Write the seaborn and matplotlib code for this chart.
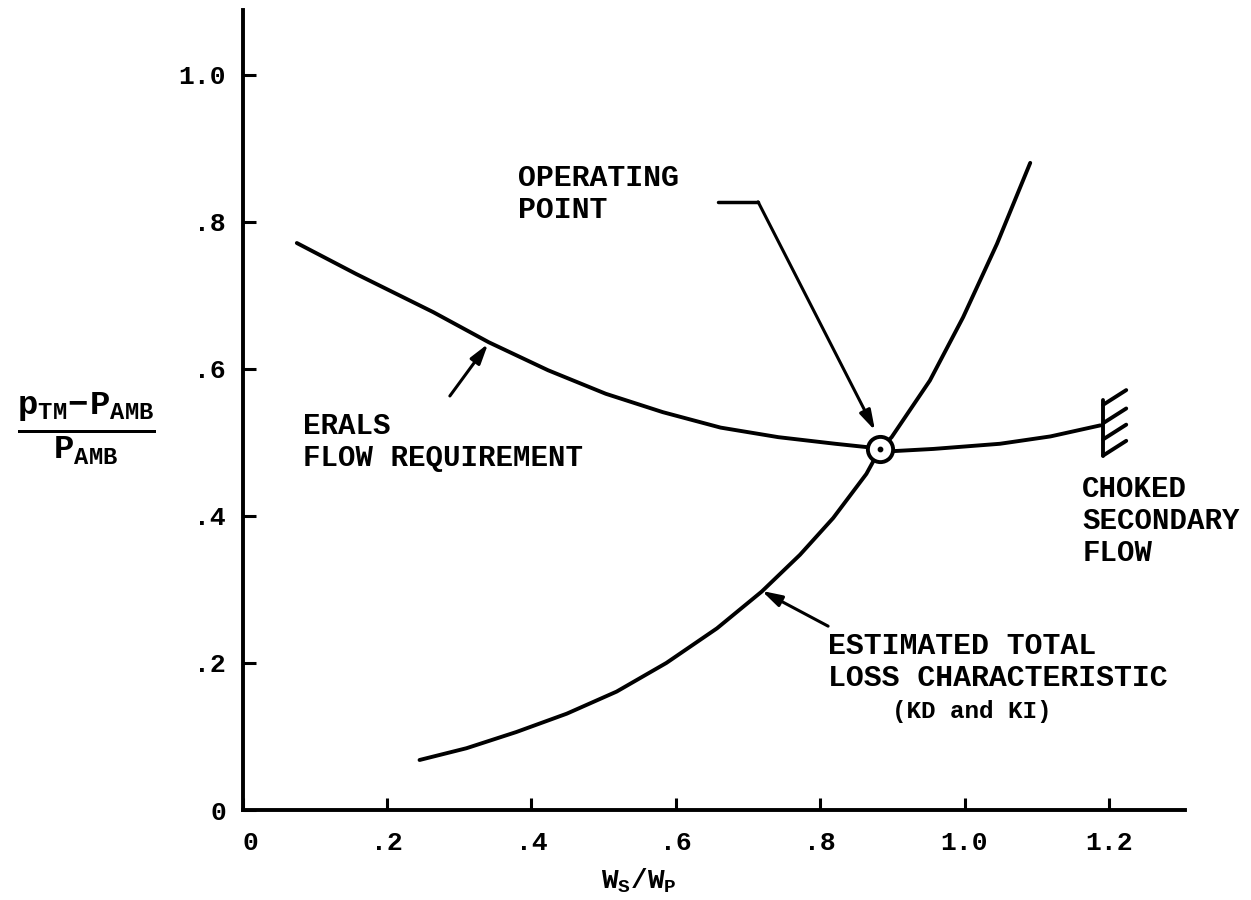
import numpy as np
import pandas as pd
import matplotlib
matplotlib.use('Agg')
import matplotlib.pyplot as plt
import seaborn as sns

# ERALS flow requirement curve
erals_x = [0.075, 0.157, 0.264, 0.341, 0.423, 0.503, 0.582, 0.662, 0.742, 0.821, 0.869,
           0.883, 0.901, 0.957, 1.049, 1.119, 1.188]
erals_y = [0.771, 0.729, 0.677, 0.636, 0.598, 0.566, 0.541, 0.520, 0.507, 0.498, 0.493,
           0.491, 0.488, 0.491, 0.498, 0.508, 0.523]

# Estimated total loss characteristic (KD and KI)
loss_x = [0.245, 0.310, 0.379, 0.449, 0.518, 0.587, 0.657, 0.719, 0.772, 0.818, 0.864,
          0.883, 0.899, 0.952, 0.998, 1.045, 1.091]
loss_y = [0.068, 0.084, 0.106, 0.131, 0.161, 0.200, 0.247, 0.297, 0.347, 0.397, 0.457,
          0.491, 0.507, 0.584, 0.670, 0.770, 0.880]

# operating point
op_x = 0.883
op_y = 0.491

x_tick_vals = [0, 0.2, 0.4, 0.6, 0.8, 1.0, 1.2]
x_tick_labels = ['0', '.2', '.4', '.6', '.8', '1.0', '1.2']
y_tick_vals = [0, 0.2, 0.4, 0.6, 0.8, 1.0]
y_tick_labels = ['0', '.2', '.4', '.6', '.8', '1.0']

sns.set_style('ticks')
plt.rcParams['font.family'] = ['Liberation Mono', 'DejaVu Sans']
plt.rcParams['font.weight'] = 'bold'
plt.rcParams['text.color'] = 'black'
plt.rcParams['axes.labelcolor'] = 'black'
plt.rcParams['xtick.color'] = 'black'
plt.rcParams['ytick.color'] = 'black'
plt.rcParams['axes.edgecolor'] = 'black'
plt.rcParams['mathtext.fontset'] = 'custom'
plt.rcParams['mathtext.rm'] = 'Liberation Mono:bold'
plt.rcParams['mathtext.it'] = 'Liberation Mono:bold'
plt.rcParams['mathtext.bf'] = 'Liberation Mono:bold'

fig = plt.figure(figsize=(12.51, 9), dpi=100)
ax = fig.add_axes([0.194, 0.10, 0.753, 0.889])

df_erals = pd.DataFrame({'x': erals_x, 'y': erals_y})
df_loss = pd.DataFrame({'x': loss_x, 'y': loss_y})
sns.lineplot(data=df_erals, x='x', y='y', ax=ax, color='black', linewidth=2.8, sort=False)
sns.lineplot(data=df_loss, x='x', y='y', ax=ax, color='black', linewidth=2.8, sort=False)

# operating point marker: open circle with a dot
ax.scatter([op_x], [op_y], s=330, facecolor='white', edgecolor='black', linewidth=2.8, zorder=5)
ax.scatter([op_x], [op_y], s=10, color='black', zorder=6)

# choked secondary flow hatch
hx = erals_x[-1] + 0.004
ax.plot([hx, hx], [0.482, 0.557], color='black', linewidth=2.8)
for yb in [0.482, 0.504, 0.526, 0.551]:
    ax.plot([hx, hx + 0.032], [yb, yb + 0.02], color='black', linewidth=2.8)

arrow = dict(arrowstyle='-|>,head_length=1.2,head_width=0.35', color='black', lw=2.2,
             shrinkA=0, shrinkB=0)

# operating point leader
ax.plot([0.659, 0.714], [0.827, 0.827], color='black', linewidth=2.5)
ax.annotate('', xy=(0.876, 0.516), xytext=(0.714, 0.827), arrowprops=arrow)
ax.text(0.382, 0.879, 'OPERATING\nPOINT', fontsize=21.5, va='top', ha='left', linespacing=1.18)

# ERALS label
ax.annotate('', xy=(0.340, 0.634), xytext=(0.287, 0.563), arrowprops=arrow)
ax.text(0.083, 0.541, 'ERALS\nFLOW REQUIREMENT', fontsize=21, va='top', ha='left', linespacing=1.18)

# loss characteristic label
ax.annotate('', xy=(0.719, 0.298), xytext=(0.811, 0.250), arrowprops=arrow)
ax.text(0.811, 0.242, 'ESTIMATED TOTAL\nLOSS CHARACTERISTIC', fontsize=21.5, va='top', ha='left',
        linespacing=1.18)
ax.text(1.01, 0.134, '(KD and KI)', fontsize=17.5, va='center', ha='center')

ax.text(1.163, 0.456, 'CHOKED\nSECONDARY\nFLOW', fontsize=21, va='top', ha='left', linespacing=1.18)

ax.set_xlim(0, 1.305)
ax.set_ylim(0, 1.088)
ax.set_xticks(x_tick_vals)
ax.set_xticklabels(x_tick_labels)
ax.set_yticks(y_tick_vals)
ax.set_yticklabels(y_tick_labels)
ax.tick_params(direction='in', length=9, width=2.2, labelsize=19, pad=12)
ax.tick_params(axis='x', pad=15)
ax.get_xticklabels()[0].set_horizontalalignment('left')
for side in ['left', 'bottom']:
    ax.spines[side].set_linewidth(2.8)
sns.despine(ax=ax)

ax.set_xlabel(r'$\mathrm{W_S/W_P}$', fontsize=20)
ax.xaxis.set_label_coords(0.421, -0.07)
ax.set_ylabel('')
fig.text(0.069, 0.524, r'$\frac{\mathrm{p_{TM}\!-\!P_{AMB}}}{\mathrm{P_{AMB}}}$', fontsize=35,
         ha='center', va='center')

fig.savefig('out.png', dpi=100, facecolor='white')
